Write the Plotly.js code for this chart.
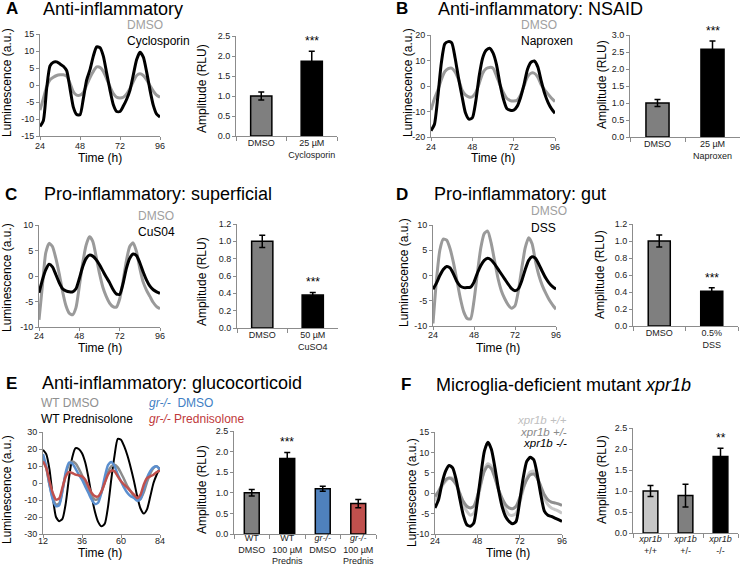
<!DOCTYPE html>
<html><head><meta charset="utf-8">
<script src="https://cdn.plot.ly/plotly-3.0.1.min.js"></script>
<style>html,body{margin:0;padding:0;background:#fff}#chart{width:741px;height:565px}</style>
</head><body><div id="chart"></div>
<script>
// ---------------- DATA ----------------
const hoursAD = [24,26,28,30,32,34,36,38,40,42,44,46,48,50,52,54,56,58,60,62,64,66,68,70,72,74,76,78,80,82,84,86,88,90,92,94,96];
const hoursE  = [12,14,16,18,20,22,24,26,28,30,32,34,36,38,40,42,44,46,48,50,52,54,56,58,60,62,64,66,68,70,72,74,76,78,80,82,84];

const aDMSO = [-7.4,-4,-0.5,1.5,2.3,2.8,3,3,2.6,0.5,-2,-3,-3,-2.2,0,2.2,4,5.3,5.2,4,1.8,-0.5,-2.5,-3.6,-3.8,-3.6,-2.6,-1,1,2.8,3.3,2.8,1.5,-0.2,-1.8,-3,-3.6];
const aCyclosporin = [-12.2,-10.5,-1,5.6,6.7,6.8,6.2,5.5,4.2,-1,-6.5,-8.7,-8.8,-4,1.5,4.5,8.5,11.2,11,8.5,3.5,-1.5,-5.8,-7.8,-7.8,-6.2,-4.2,-1.5,3,7.5,9.6,8.2,3.8,-1.5,-6,-8.6,-9.4];

const bDMSO = [-9.4,-5,-1.6,2.5,5.6,6.8,7,5.5,2.5,-1.5,-3.5,-4.3,-4.2,-2.5,1,5,6.8,7.3,7,4,0.5,-2.5,-4.8,-5.7,-5.9,-5.6,-3.5,0,3.5,5,5,3.5,0.5,-1.5,-3.2,-4.8,-6.1];
const bNaproxen = [-17.5,-15,-4,9,16.5,17.4,17,11,3,-4,-10.5,-13,-12.5,-6,4,11,14,14.8,13,8.5,1,-5,-8.8,-9.5,-9.5,-8,-4.5,0.5,6.5,9.3,9.8,7.5,2,-3,-6.5,-9,-10.7];

const cDMSO = [-8.6,-2,4.5,6.4,5.8,3.5,0.5,-3,-5.8,-7.3,-7.6,-6.2,-2,2.5,6,7.7,6.8,3.8,0.5,-2.2,-4,-5.3,-6,-6.1,-4.5,-1,3,5.8,6.5,4.8,1.5,-1.2,-2.8,-4,-5.2,-6,-6.4];
const cCuSO4 = [-3.3,-0.8,1.2,2.3,1.8,0.3,-1.3,-2.5,-2.9,-3.1,-3.1,-2.5,-0.5,1.8,3.4,4.1,3.9,3.2,2.2,1.0,-0.2,-1.3,-2.6,-3.5,-3.6,-1.5,1.5,3.5,4.3,4.0,2.6,0.8,-0.8,-2,-2.7,-3.1,-3.4];

const dDMSO = [-9.5,-1,5,7.2,7,5.3,2.5,-1,-4.5,-7.2,-8.5,-8.6,-5,0.5,5.5,8.3,8.8,6.5,3,-0.5,-3,-4.6,-5.8,-6.5,-6,-3,1.5,5.5,7.5,6.3,2.8,0,-2,-3.5,-4.8,-5.8,-6.7];
const dDSS = [-2.7,-1.5,0,1.2,1.8,1.5,0.3,-1.2,-2.1,-2.4,-2.4,-2.3,-1.3,0.5,2,3,3.4,3.1,2.3,1.3,0.3,-0.7,-1.7,-2.6,-3,-2.6,-1,1.2,3,3.7,3.4,2.2,0.8,-0.5,-1.5,-2.2,-2.7];

const eWTDMSO = [14.7,8.8,-1,-8.8,-12.7,-12,-4,5,11,12.7,11.5,8.5,4.5,-0.5,-4.5,-7.8,-9.8,-9.3,-5.5,0.5,6.5,9.8,10.8,9.2,5.9,2,-2,-4.9,-7.8,-9.8,-9.3,-5.5,0.5,5.5,8.8,9.8,8];
const eWTPred = [19.5,17,8,-8,-20,-22.5,-21,-12,3,15,20.5,20,17.5,12,3,-8,-17,-23,-25.5,-24,-14,2,16,26,25.5,21.5,16,9,1,-8,-15,-18,-15.5,-8,0,5,9];
const eGrDMSO = [17,9.8,-1,-9.8,-13.7,-13,-4.5,6.5,12,11.5,8.5,5,2,-2,-5.9,-9.8,-12.4,-11.5,-5.5,3.5,10.5,12.4,10,5,1,-2.9,-5.9,-7.8,-8.8,-10.4,-9.5,-3.5,2.9,6.9,9.2,9.8,7.8];
const eGrPred = [12.7,8.8,1,-5.9,-9.8,-9,-2.5,3.9,6.5,5.9,4.9,4.5,3.9,2,-2,-5.9,-7.8,-7.8,-4.9,0,4.9,7.3,6.9,3.9,1,-1,-2.9,-4.9,-6.9,-8.8,-6.9,-1,2.9,3.9,4.9,6.5,7.3];

const fWT  = [-2,0,1.7,2.9,3.7,3.7,2.5,0,-2.8,-4.4,-5.4,-4.9,-2,2.1,5.8,7.2,6.6,4.1,0.9,-2,-4,-5.3,-5.4,-4.9,-2.4,0.9,3.7,5.2,5.4,3.7,1.3,-1.2,-2.8,-3.6,-4,-4.4,-4.9];
const fHet = [-0.8,0.5,2.1,3.3,3.7,3.3,2.1,0,-2,-3.2,-3.6,-3.2,-0.8,2.5,5.4,6.6,6,3.7,0.9,-1.2,-2.8,-3.6,-3.8,-3.2,-1.2,1.3,3.3,4.5,4.7,3.7,1.7,-0.4,-1.6,-2.2,-2.4,-2.6,-3];
const fMut = [-3.6,-1.6,2.5,5.4,6.8,6.2,3.3,-1.2,-5.3,-7.7,-8.1,-7.3,-2,4.5,10.3,12.5,10.7,6.2,0.9,-3.2,-5.7,-6.9,-7.5,-6.9,-2,3.7,7.8,8.8,8.2,4.5,-0.4,-4.4,-5.4,-5.7,-6.1,-6.5,-6.9];

// tick labels
const ticksTimeAD = [24,48,72,96];
const ticksTimeE  = [12,36,60,84];
const yTicksA = [-15,-10,-5,0,5,10,15];
const yTicksB = [-20,-10,0,10,20];
const yTicksCD = [-10,-5,0,5,10];
const yTicksE = [-30,-20,-10,0,10,20,30];
const yTicksF = [-10,-5,0,5,10,15];

// bar data
const barCatsA = ['DMSO','25 µM<br>Cyclosporin'];
const barValsA = [1.0, 1.87];
const barErrA  = [0.1, 0.25];
const barCatsB = ['DMSO','25 µM<br>Naproxen'];
const barValsB = [1.0, 2.58];
const barErrB  = [0.1, 0.24];
const barCatsC = ['DMSO','50 µM<br>CuSO4'];
const barValsC = [1.0, 0.38];
const barErrC  = [0.07, 0.03];
const barCatsD = ['DMSO','0.5%<br>DSS'];
const barValsD = [1.0, 0.41];
const barErrD  = [0.07, 0.04];
const barCatsE = ['WT<br>DMSO','WT<br>100 µM<br>Prednis','<i>gr-/-</i><br>DMSO','<i>gr-/-</i><br>100 µM<br>Prednis'];
const barValsE = [1.0, 1.83, 1.1, 0.74];
const barErrE  = [0.08, 0.15, 0.06, 0.1];
const barCatsF = ['<i>xpr1b</i><br>+/+','<i>xpr1b</i><br>+/-','<i>xpr1b</i><br>-/-'];
const barValsF = [1.0, 0.89, 1.82];
const barErrF  = [0.13, 0.27, 0.2];

// ---------------- LAYOUT ----------------
const W = 741, H = 565;
const fx = v => v / W;
const fy = v => 1 - v / H;
const FONT = 'Liberation Sans, Arial, sans-serif';

const GRAY = '#9a9a9a', BLACK = '#000000';

const layout = {
  width: W, height: H, margin: {l:0, r:0, t:0, b:0},
  paper_bgcolor: '#ffffff', plot_bgcolor: 'rgba(0,0,0,0)',
  showlegend: false, font: {family: FONT, color: '#000'},
  annotations: []
};
const data = [];
let axN = 0;
function axNames(){ axN++; const s = axN === 1 ? '' : String(axN); return {xa:'xaxis'+s, ya:'yaxis'+s, x:'x'+s, y:'y'+s}; }

const axisBase = {showline:true, linecolor:'#8c8c8c', linewidth:1, ticks:'outside', ticklen:3, tickwidth:1,
  tickcolor:'#8c8c8c', showgrid:false, zeroline:false, tickfont:{size:9, color:'#222', family:FONT}, fixedrange:true};

function linePanel(box, xr, xticks, yr, yticks, series, xStand){
  const a = axNames();
  layout[a.xa] = Object.assign({}, axisBase, {domain:[fx(box[0]), fx(box[1])], range:xr, tickvals:xticks, ticktext:xticks.map(String),
    anchor:a.y, ticklabelstandoff:xStand});
  layout[a.ya] = Object.assign({}, axisBase, {domain:[fy(box[3]), fy(box[2])], range:yr, tickvals:yticks, ticktext:yticks.map(String), anchor:a.x});
  series.forEach(s => data.push({type:'scatter', mode:'lines', x:s.x, y:s.y, xaxis:a.x, yaxis:a.y,
    line:{color:s.color, width:s.width, shape:'spline', smoothing:0.6}, hoverinfo:'skip'}));
}

function barPanel(box, cats, vals, errs, colors, yr, dtick, starIdx, starText, xStand){
  const a = axNames();
  layout[a.xa] = Object.assign({}, axisBase, {domain:[fx(box[0]), fx(box[1])], type:'category', range:[-0.5, cats.length-0.5],
    tickson:'boundaries', ticklen:4, tickangle:0, anchor:a.y, ticklabelstandoff:xStand});
  layout[a.ya] = Object.assign({}, axisBase, {domain:[fy(box[3]), fy(box[2])], range:yr, dtick:dtick, tick0:0, tickformat:'.1f', anchor:a.x});
  data.push({type:'bar', x:cats, y:vals, width:0.42, xaxis:a.x, yaxis:a.y, hoverinfo:'skip',
    marker:{color:colors, line:{color:'#000', width:1.5}},
    error_y:{type:'data', array:errs, visible:true, color:'#000', thickness:1.5, width:3}});
  layout.annotations.push({xref:a.x, yref:a.y, x:starIdx, y:vals[starIdx]+errs[starIdx], text:starText, showarrow:false,
    yanchor:'bottom', yshift:1, font:{size:12, color:'#000', family:FONT}});
}

function txt(text, x, y, opts){
  layout.annotations.push(Object.assign({xref:'paper', yref:'paper', x:fx(x), y:fy(y), text:text, showarrow:false,
    xanchor:'left', yanchor:'middle', font:{size:12, color:'#000', family:FONT}}, opts || {}));
}
function axTitles(lumX, lumY, timeX, timeY, ampX, ampY){
  txt('Luminescence (a.u.)', lumX, lumY, {xanchor:'center', textangle:-90});
  txt('Time (h)', timeX, timeY, {xanchor:'center'});
  txt('Amplitude (RLU)', ampX, ampY, {xanchor:'center', textangle:-90});
}

// ---- Panel A
linePanel([40,160,34,136], [24,96], ticksTimeAD, [-15,15], yTicksA, [
  {x:hoursAD, y:aDMSO, color:GRAY, width:3}, {x:hoursAD, y:aCyclosporin, color:BLACK, width:3}], -2);
barPanel([236,337,36,136], barCatsA, barValsA, barErrA, ['#7f7f7f','#000'], [0,2.5], 0.5, 1, '***', -2);
// ---- Panel B
linePanel([431,555,35,137], [24,96], ticksTimeAD, [-20,20], yTicksB, [
  {x:hoursAD, y:bDMSO, color:GRAY, width:3}, {x:hoursAD, y:bNaproxen, color:BLACK, width:3}], -2);
barPanel([630,740,35,137], barCatsB, barValsB, barErrB, ['#7f7f7f','#000'], [0,3.0], 0.5, 1, '***', -2);
// ---- Panel C
linePanel([39,160,225,327], [24,96], ticksTimeAD, [-10,10], yTicksCD, [
  {x:hoursAD, y:cDMSO, color:GRAY, width:3}, {x:hoursAD, y:cCuSO4, color:BLACK, width:3}], -3);
barPanel([237,338,224,328], barCatsC, barValsC, barErrC, ['#7f7f7f','#000'], [0,1.2], 0.2, 1, '***', -2);
// ---- Panel D
linePanel([433,556,225,326], [24,96], ticksTimeAD, [-10,10], yTicksCD, [
  {x:hoursAD, y:dDMSO, color:GRAY, width:3}, {x:hoursAD, y:dDSS, color:BLACK, width:3}], -3);
barPanel([633,738,224,326], barCatsD, barValsD, barErrD, ['#7f7f7f','#000'], [0,1.2], 0.2, 1, '***', -2);
// ---- Panel E
linePanel([43,160,432,534], [12,84], ticksTimeE, [-30,30], yTicksE, [
  {x:hoursE, y:eWTPred, color:BLACK, width:2}, {x:hoursE, y:eWTDMSO, color:'#8c8c8c', width:2.5},
  {x:hoursE, y:eGrDMSO, color:'#5b8fcf', width:2.5}, {x:hoursE, y:eGrPred, color:'#c0504d', width:2.5}], -5);
barPanel([234,376,431,534], barCatsE, barValsE, barErrE, ['#7f7f7f','#000','#4f81bd','#c0504d'], [0,2.5], 0.5, 1, '***', -5);
// ---- Panel F
linePanel([435,562,432,534], [24,96], ticksTimeAD, [-10,15], yTicksF, [
  {x:hoursAD, y:fWT, color:'#c8c8c8', width:3}, {x:hoursAD, y:fHet, color:'#8f8f8f', width:3},
  {x:hoursAD, y:fMut, color:BLACK, width:3}], -5);
barPanel([633,738,428,533], barCatsF, barValsF, barErrF, ['#c6c6c6','#7f7f7f','#000'], [0,2.5], 0.5, 2, '**', -3);

// ---- texts: letters & titles
const LET = {size:17, color:'#000', family:FONT};
const TIT = {size:18, color:'#000', family:FONT};
txt('<b>A</b>', 4, 9, {font:LET}); txt('Anti-inflammatory', 41, 9, {font:TIT});
txt('<b>B</b>', 394, 9, {font:LET}); txt('Anti-inflammatory: NSAID', 436, 9, {font:TIT});
txt('<b>C</b>', 3, 194, {font:LET}); txt('Pro-inflammatory: superficial', 42, 194, {font:TIT});
txt('<b>D</b>', 394, 194, {font:LET}); txt('Pro-inflammatory: gut', 432, 194, {font:TIT});
txt('<b>E</b>', 4, 383, {font:LET}); txt('Anti-inflammatory: glucocorticoid', 40, 383, {font:TIT});
txt('<b>F</b>', 399, 385, {font:LET}); txt('Microglia-deficient mutant <i>xpr1b</i>', 434, 385, {font:TIT});

// ---- legend texts
const LG = c => ({size:12, color:c, family:FONT});
txt('DMSO', 125, 25, {font:LG('#a0a0a0')}); txt('Cyclosporin', 125, 41, {font:LG('#000')});
txt('DMSO', 519, 25, {font:LG('#a0a0a0')}); txt('Naproxen', 519, 41, {font:LG('#000')});
txt('DMSO', 136, 216, {font:LG('#a0a0a0')}); txt('CuS04', 136, 232, {font:LG('#000')});
txt('DMSO', 529, 211, {font:LG('#a0a0a0')}); txt('DSS', 529, 228, {font:LG('#000')});
txt('WT DMSO', 39, 403, {font:LG('#909090')}); txt('<i>gr-/-</i>  DMSO', 147, 403, {font:LG('#3f7fc4')});
txt('WT Prednisolone', 39, 419, {font:LG('#000')}); txt('<i>gr-/-</i> Prednisolone', 147, 419, {font:LG('#c0393b')});
txt('<i>xpr1b +/+</i>', 569, 420, {xanchor:'right', font:{size:11.5, color:'#c0c0c0', family:FONT}});
txt('<i>xpr1b +/-</i>', 569, 432, {xanchor:'right', font:{size:11.5, color:'#8a8a8a', family:FONT}});
txt('<i>xpr1b -/-</i>', 569, 443, {xanchor:'right', font:{size:11.5, color:'#000', family:FONT}});

// ---- axis titles
axTitles(7, 83, 100, 158, 202, 89);
axTitles(408, 83, 493, 158, 602, 85);
axTitles(7, 278, 100, 348, 202, 282);
axTitles(404, 273, 498, 348, 600, 275);
axTitles(7, 490, 100, 553, 202, 490);
axTitles(412, 493, 508, 553, 602, 480);

Plotly.newPlot('chart', data, layout, {staticPlot:true, displayModeBar:false});
</script>
</body></html>
